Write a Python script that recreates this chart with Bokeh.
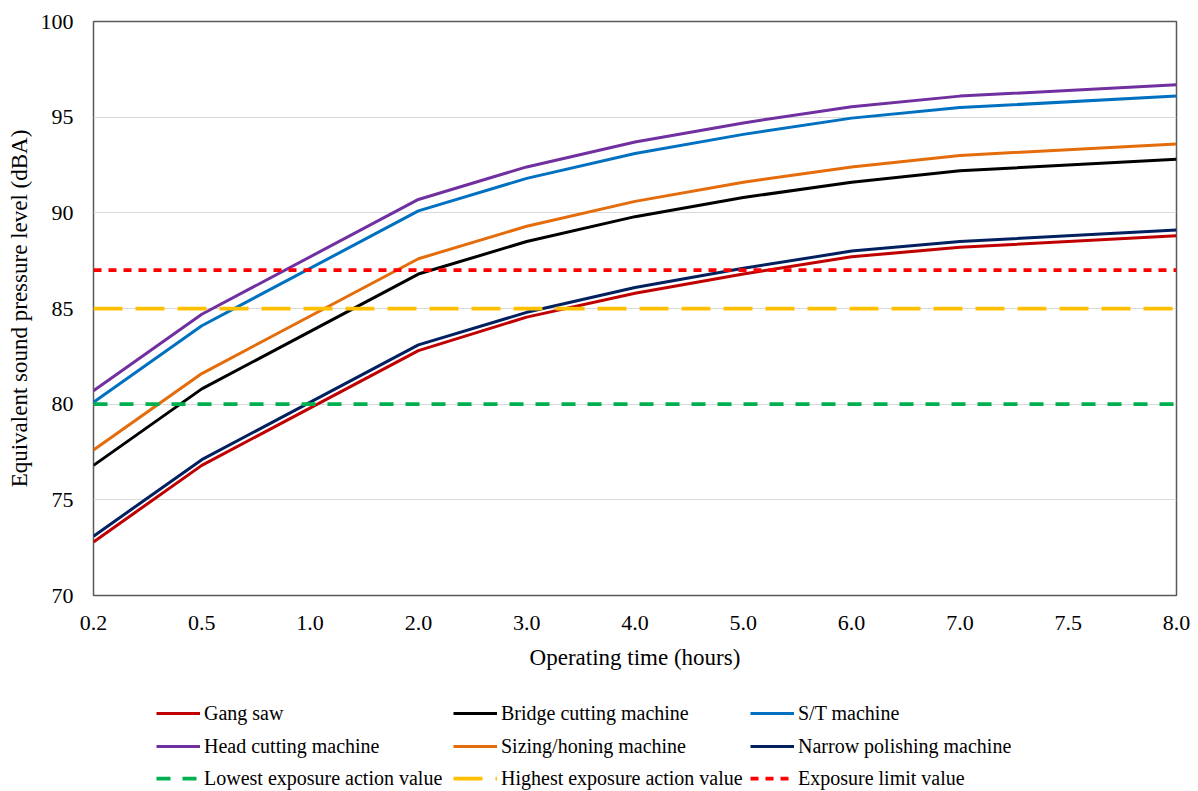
from bokeh.plotting import figure
from bokeh.layouts import column
from bokeh.models import Range1d, FixedTicker, Legend, LegendItem
from bokeh.embed import file_html
from bokeh.resources import INLINE

# ---- data ----
time_labels = ["0.2", "0.5", "1.0", "2.0", "3.0", "4.0", "5.0", "6.0", "7.0", "7.5", "8.0"]
data_times = ["0.2", "0.5", "2.0", "3.0", "4.0", "5.0", "6.0", "7.0", "8.0"]

gang_saw = [72.8, 76.8, 82.8, 84.55, 85.8, 86.8, 87.7, 88.2, 88.8]
bridge_cutting = [76.8, 80.8, 86.8, 88.5, 89.8, 90.8, 91.6, 92.2, 92.8]
st_machine = [80.1, 84.1, 90.1, 91.8, 93.1, 94.1, 94.95, 95.5, 96.1]
head_cutting = [80.7, 84.7, 90.7, 92.4, 93.7, 94.7, 95.55, 96.1, 96.7]
sizing_honing = [77.6, 81.6, 87.6, 89.3, 90.6, 91.6, 92.4, 93.0, 93.6]
narrow_polishing = [73.1, 77.1, 83.1, 84.8, 86.1, 87.1, 88.0, 88.5, 89.1]

machine_names = ["Gang saw", "Bridge cutting machine", "S/T machine",
                 "Head cutting machine", "Sizing/honing machine", "Narrow polishing machine"]
machine_values = [gang_saw, bridge_cutting, st_machine, head_cutting, sizing_honing, narrow_polishing]
machine_colors = ["#C00000", "#000000", "#0070C0", "#7030A0", "#E46C0A", "#002060"]

limit_names = ["Lowest exposure action value", "Highest exposure action value", "Exposure limit value"]
limit_values = [80, 85, 87]
limit_colors = ["#00B050", "#FFC000", "#FF0000"]
limit_dashes = ["14 12", "29 13", "8 7"]

y_ticks = [70, 75, 80, 85, 90, 95, 100]

FONT = "Liberation Serif"
MACHINE_W = 3
LIMIT_W = 3.75

p = figure(width=1198, height=680,
           x_range=Range1d(0, len(time_labels) - 1), y_range=Range1d(70, 100),
           output_backend="svg", toolbar_location=None,
           min_border_left=93, min_border_right=22, min_border_top=21, min_border_bottom=85)

xs = [time_labels.index(t) for t in data_times]
for vals, col in zip(machine_values, machine_colors):
    p.line(xs, vals, line_color=col, line_width=MACHINE_W)

for v, col, dash in zip(limit_values, limit_colors, limit_dashes):
    p.line([0, len(time_labels) - 1], [v, v], line_color=col, line_width=LIMIT_W, line_dash=dash)

# axes
p.xaxis.ticker = FixedTicker(ticks=list(range(len(time_labels))))
p.xaxis.major_label_overrides = {i: lab for i, lab in enumerate(time_labels)}
p.yaxis.ticker = FixedTicker(ticks=y_ticks)
p.xaxis.axis_label = "Operating time (hours)"
p.yaxis.axis_label = "Equivalent sound pressure level (dBA)"
for ax in (p.xaxis[0], p.yaxis[0]):
    ax.axis_line_color = None
    ax.major_tick_line_color = None
    ax.minor_tick_line_color = None
    ax.major_tick_out = 0
    ax.major_tick_in = 0
    ax.major_label_text_font = FONT
    ax.major_label_text_font_size = "22px"
    ax.major_label_text_color = "#000000"
    ax.axis_label_text_font = FONT
    ax.axis_label_text_font_size = "23px"
    ax.axis_label_text_font_style = "normal"
    ax.axis_label_text_color = "#000000"
p.xaxis.major_label_standoff = 20
p.xaxis.axis_label_standoff = 12
p.yaxis.major_label_standoff = 20
p.yaxis.axis_label_standoff = 6

p.xgrid.visible = False
p.ygrid.grid_line_color = "#D9D9D9"
p.ygrid.grid_line_width = 1
p.outline_line_color = "#595959"
p.outline_line_width = 1.5
p.background_fill_color = "#FFFFFF"
p.border_fill_color = "#FFFFFF"

# ---- legend panel below the chart ----
LEG_H = 111
lf = figure(width=1198, height=LEG_H, x_range=Range1d(0, 1), y_range=Range1d(0, 1),
            x_axis_type=None, y_axis_type=None, output_backend="svg", toolbar_location=None,
            min_border=0, outline_line_color=None)
lf.grid.visible = False

nan = float("nan")
all_names = machine_names + limit_names
swatches = []
for col in machine_colors:
    swatches.append(lf.line([nan], [nan], line_color=col, line_width=MACHINE_W))
for col, dash in zip(limit_colors, limit_dashes):
    swatches.append(lf.line([nan], [nan], line_color=col, line_width=LIMIT_W, line_dash=dash))

item_h = 26
row_centers = [33, 66, 98]
for i, c in enumerate(row_centers):
    items = [LegendItem(label=all_names[k], renderers=[swatches[k]]) for k in range(3 * i, 3 * i + 3)]
    leg = Legend(items=items, orientation="horizontal", location=(63, LEG_H - c - item_h / 2),
                 label_text_font=FONT, label_text_font_size="20px", label_text_color="#000000",
                 glyph_width=44, glyph_height=item_h, label_height=item_h, label_width=249,
                 label_standoff=4, spacing=0, padding=0, margin=0,
                 background_fill_alpha=0, border_line_alpha=0)
    lf.add_layout(leg, "center")

layout = column(p, lf, spacing=0)
open("out.html", "w").write(file_html(layout, INLINE))
